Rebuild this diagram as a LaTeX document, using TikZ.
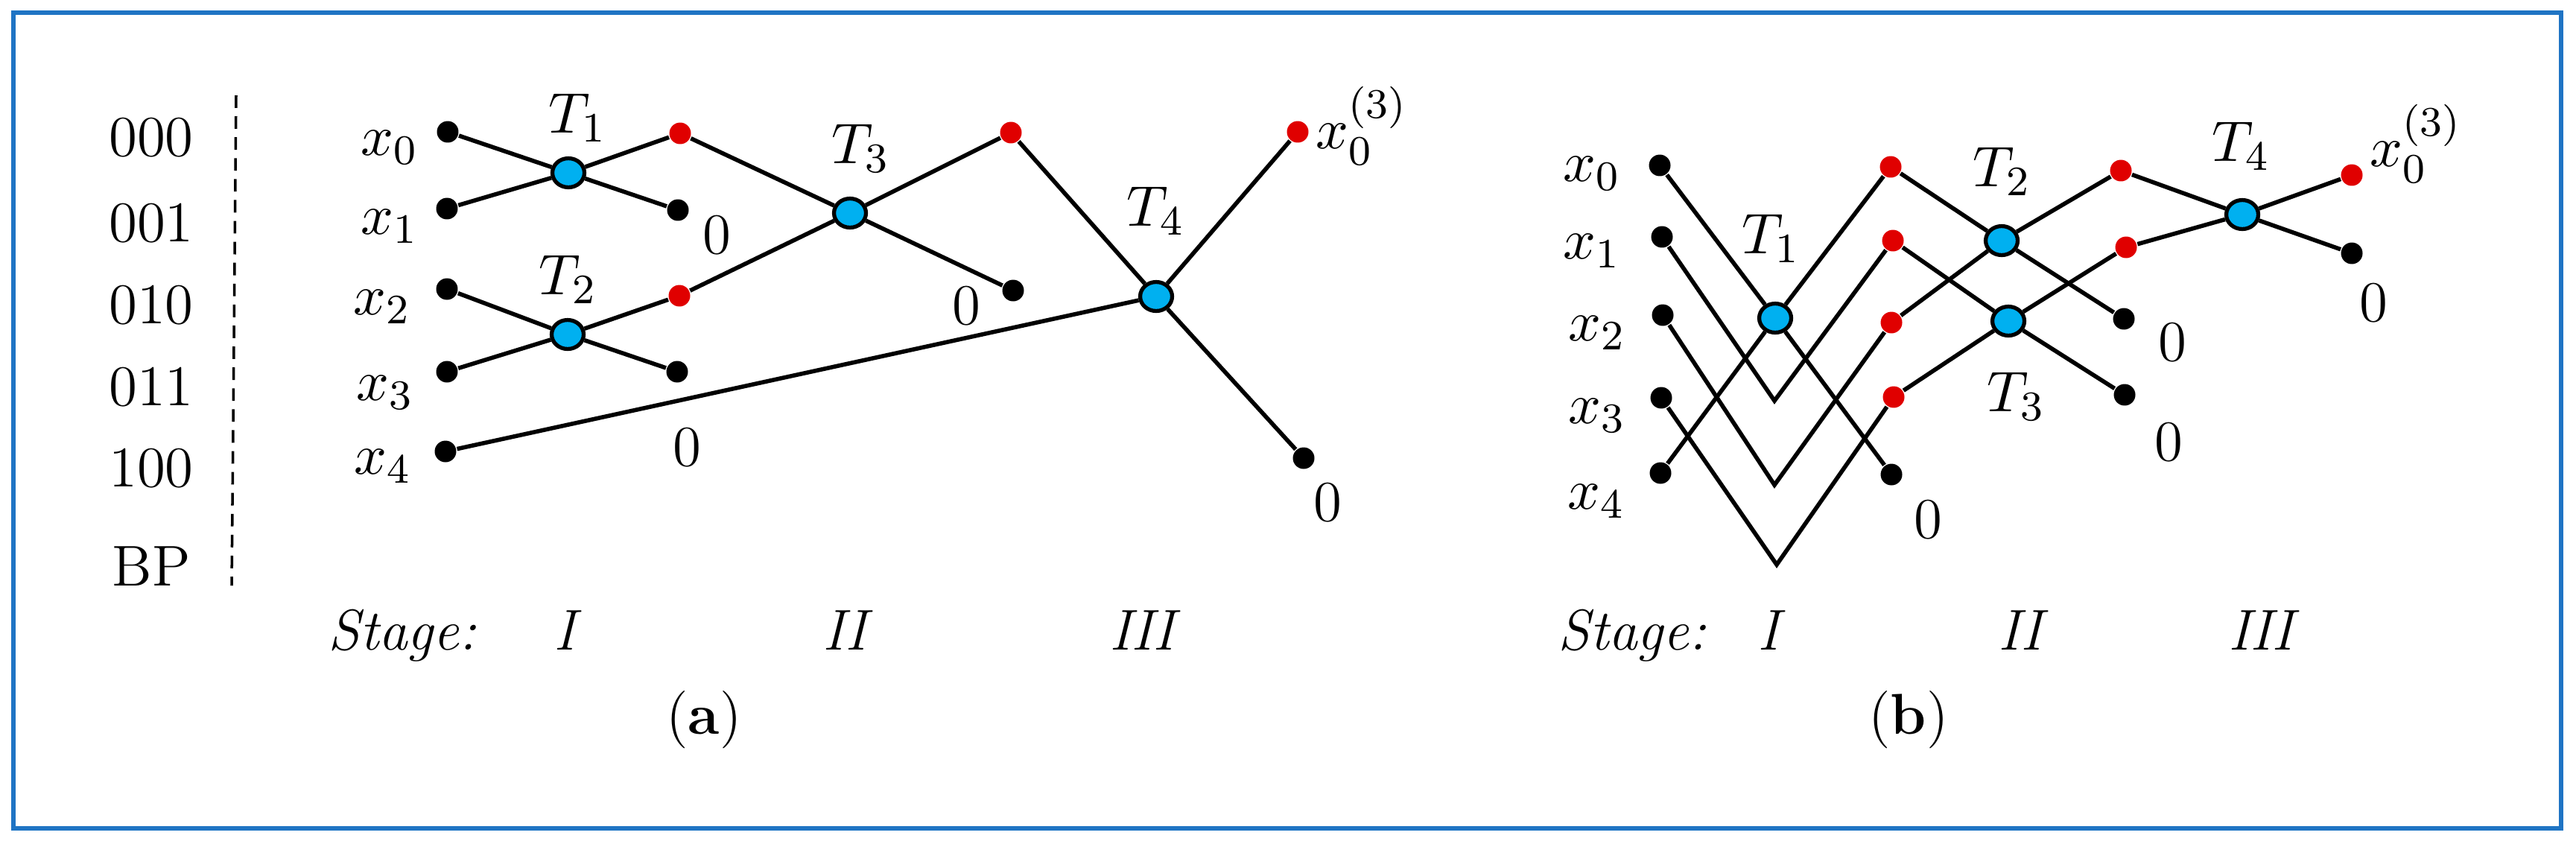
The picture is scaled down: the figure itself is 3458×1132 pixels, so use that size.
\documentclass[tikz,border=0pt]{standalone}
\usepackage{amsmath}
\usepackage{xcolor}
\usepackage{tikz}
\usetikzlibrary{shapes.geometric}
\definecolor{ink}{HTML}{000000}
\definecolor{frameBlue}{HTML}{1F74C4}
\definecolor{bfCyan}{HTML}{00B0F0}
\definecolor{outRed}{HTML}{E00000}
\tikzset{
  bf/.style={ellipse, draw=ink, fill=bfCyan, line width=0.75pt, minimum width=0.215cm, minimum height=0.195cm, inner sep=0pt},
  bdot/.style={circle, fill=ink, inner sep=0pt, minimum size=0.145cm},
  rdot/.style={circle, fill=outRed, inner sep=0pt, minimum size=0.145cm},
  lbl/.style={font=\fontsize{11}{13}\selectfont, text=ink, inner sep=0pt},
  stg/.style={lbl, font=\fontsize{11}{13}\selectfont\itshape, anchor=base},
  wire/.style={ink, line width=0.8pt},
}
\begin{document}
\begin{tikzpicture}[x=0.005cm, y=-0.005cm]
\useasboundingbox (0,0) rectangle (3458,1132);
\draw[frameBlue, line width=0.75pt] (18,17) rectangle (3438,1112);
% (a)
\node[lbl] (r0) at (203,185) {000};
\node[lbl] (r1) at (203,300) {001};
\node[lbl] (r2) at (203,410) {010};
\node[lbl] (r3) at (203,520) {011};
\node[lbl] (r4) at (203,629) {100};
\node[lbl] (rbp) at (203,760) {BP};
\coordinate (dtop) at (317,128);
\coordinate (dbot) at (311,786);
\draw[ink, line width=0.5pt, dash pattern=on 2.4pt off 1.6pt] (dtop) -- (dbot);
\node[bdot] (ax0) at (601,177) {};
\node[bdot] (ax1) at (600,280) {};
\node[bdot] (ax2) at (600,388) {};
\node[bdot] (ax3) at (600,499) {};
\node[bdot] (ax4) at (598,606) {};
\node[lbl] (lax0) at (523,198) {$x_0$};
\node[lbl] (lax1) at (523,304) {$x_1$};
\node[lbl] (lax2) at (513,412) {$x_2$};
\node[lbl] (lax3) at (517,527) {$x_3$};
\node[lbl] (lax4) at (514,626) {$x_4$};
\node[bf] (aT1) at (763,232) {};
\node[bf] (aT2) at (762,449) {};
\node[bf] (aT3) at (1141,286) {};
\node[bf] (aT4) at (1552,398) {};
\node[lbl] (laT1) at (776,158) {$T_1$};
\node[lbl] (laT2) at (763,375) {$T_2$};
\node[lbl] (laT3) at (1156,199) {$T_3$};
\node[lbl] (laT4) at (1552,283) {$T_4$};
\node[rdot] (ar1) at (913,179) {};
\node[bdot] (ab1) at (910,282) {};
\node[rdot] (ar2) at (912,397) {};
\node[bdot] (ab2) at (909,499) {};
\node[rdot] (ar3) at (1357,178) {};
\node[bdot] (ab3) at (1360,390) {};
\node[rdot] (ar4) at (1742,177) {};
\node[bdot] (ab4) at (1750,615) {};
\node[lbl] (lar4) at (1828,169) {$x_0^{(3)}$};
\node[lbl] (az1) at (962,316) {0};
\node[lbl] (az2) at (1297,411) {0};
\node[lbl] (az3) at (922,601) {0};
\node[lbl] (az4) at (1782,675) {0};
\draw[wire] (ax0) -- (aT1) -- (ar1);
\draw[wire] (ax1) -- (aT1) -- (ab1);
\draw[wire] (ax2) -- (aT2) -- (ar2);
\draw[wire] (ax3) -- (aT2) -- (ab2);
\draw[wire] (ar1) -- (aT3) -- (ar3);
\draw[wire] (ar2) -- (aT3) -- (ab3);
\draw[wire] (ar3) -- (aT4) -- (ar4);
\draw[wire] (ax4) -- (aT4) -- (ab4);
\node[stg] (ast) at (540,872) {Stage:};
\node[stg] (as1) at (758,872) {I};
\node[stg] (as2) at (1134,872) {II};
\node[stg] (as3) at (1533,872) {III};
\node[lbl] (acap) at (945,966) {(\textbf{a})};
% (b)
\node[bdot] (bx0) at (2228,222) {};
\node[bdot] (bx1) at (2231,318) {};
\node[bdot] (bx2) at (2232,423) {};
\node[bdot] (bx3) at (2230,534) {};
\node[bdot] (bx4) at (2229,635) {};
\node[lbl] (lbx0) at (2137,233) {$x_0$};
\node[lbl] (lbx1) at (2137,337) {$x_1$};
\node[lbl] (lbx2) at (2144,447) {$x_2$};
\node[lbl] (lbx3) at (2144,558) {$x_3$};
\node[lbl] (lbx4) at (2143,673) {$x_4$};
\node[bf] (bT1) at (2383,427) {};
\node[bf] (bT2) at (2687,323) {};
\node[bf] (bT3) at (2696,431) {};
\node[bf] (bT4) at (3010,288) {};
\node[lbl] (lbT1) at (2378,320) {$T_1$};
\node[lbl] (lbT2) at (2688,230) {$T_2$};
\node[lbl] (lbT3) at (2707,532) {$T_3$};
\node[lbl] (lbT4) at (3009,196) {$T_4$};
\coordinate (bv1) at (2382,538);
\coordinate (bv2) at (2382,651);
\coordinate (bv3) at (2385,758);
\node[rdot] (br1) at (2538,224) {};
\node[rdot] (br2) at (2541,323) {};
\node[rdot] (br3) at (2539,433) {};
\node[rdot] (br4) at (2542,533) {};
\node[bdot] (bb1) at (2539,637) {};
\node[rdot] (bs1) at (2847,229) {};
\node[rdot] (bs2) at (2854,332) {};
\node[bdot] (bb2) at (2851,428) {};
\node[bdot] (bb3) at (2852,530) {};
\node[rdot] (bo1) at (3157,235) {};
\node[bdot] (bb4) at (3157,340) {};
\node[lbl] (lbo1) at (3243,193) {$x_0^{(3)}$};
\node[lbl] (bz1) at (2588,698) {0};
\node[lbl] (bz2) at (2916,460) {0};
\node[lbl] (bz3) at (2911,594) {0};
\node[lbl] (bz4) at (3186,407) {0};
\draw[wire] (bx0) -- (bT1) -- (br1);
\draw[wire] (bx4) -- (bT1) -- (bb1);
\draw[wire] (bx1) -- (bv1) -- (br2);
\draw[wire] (bx2) -- (bv2) -- (br3);
\draw[wire] (bx3) -- (bv3) -- (br4);
\draw[wire] (br1) -- (bT2) -- (bs1);
\draw[wire] (br3) -- (bT2) -- (bb2);
\draw[wire] (br2) -- (bT3) -- (bs2);
\draw[wire] (br4) -- (bT3) -- (bb3);
\draw[wire] (bs1) -- (bT4) -- (bo1);
\draw[wire] (bs2) -- (bT4) -- (bb4);
\node[stg] (bst) at (2191,872) {Stage:};
\node[stg] (bs1l) at (2374,872) {I};
\node[stg] (bs2l) at (2712,872) {II};
\node[stg] (bs3l) at (3035,872) {III};
\node[lbl] (bcap) at (2562,966) {(\textbf{b})};
\end{tikzpicture}
\end{document}
